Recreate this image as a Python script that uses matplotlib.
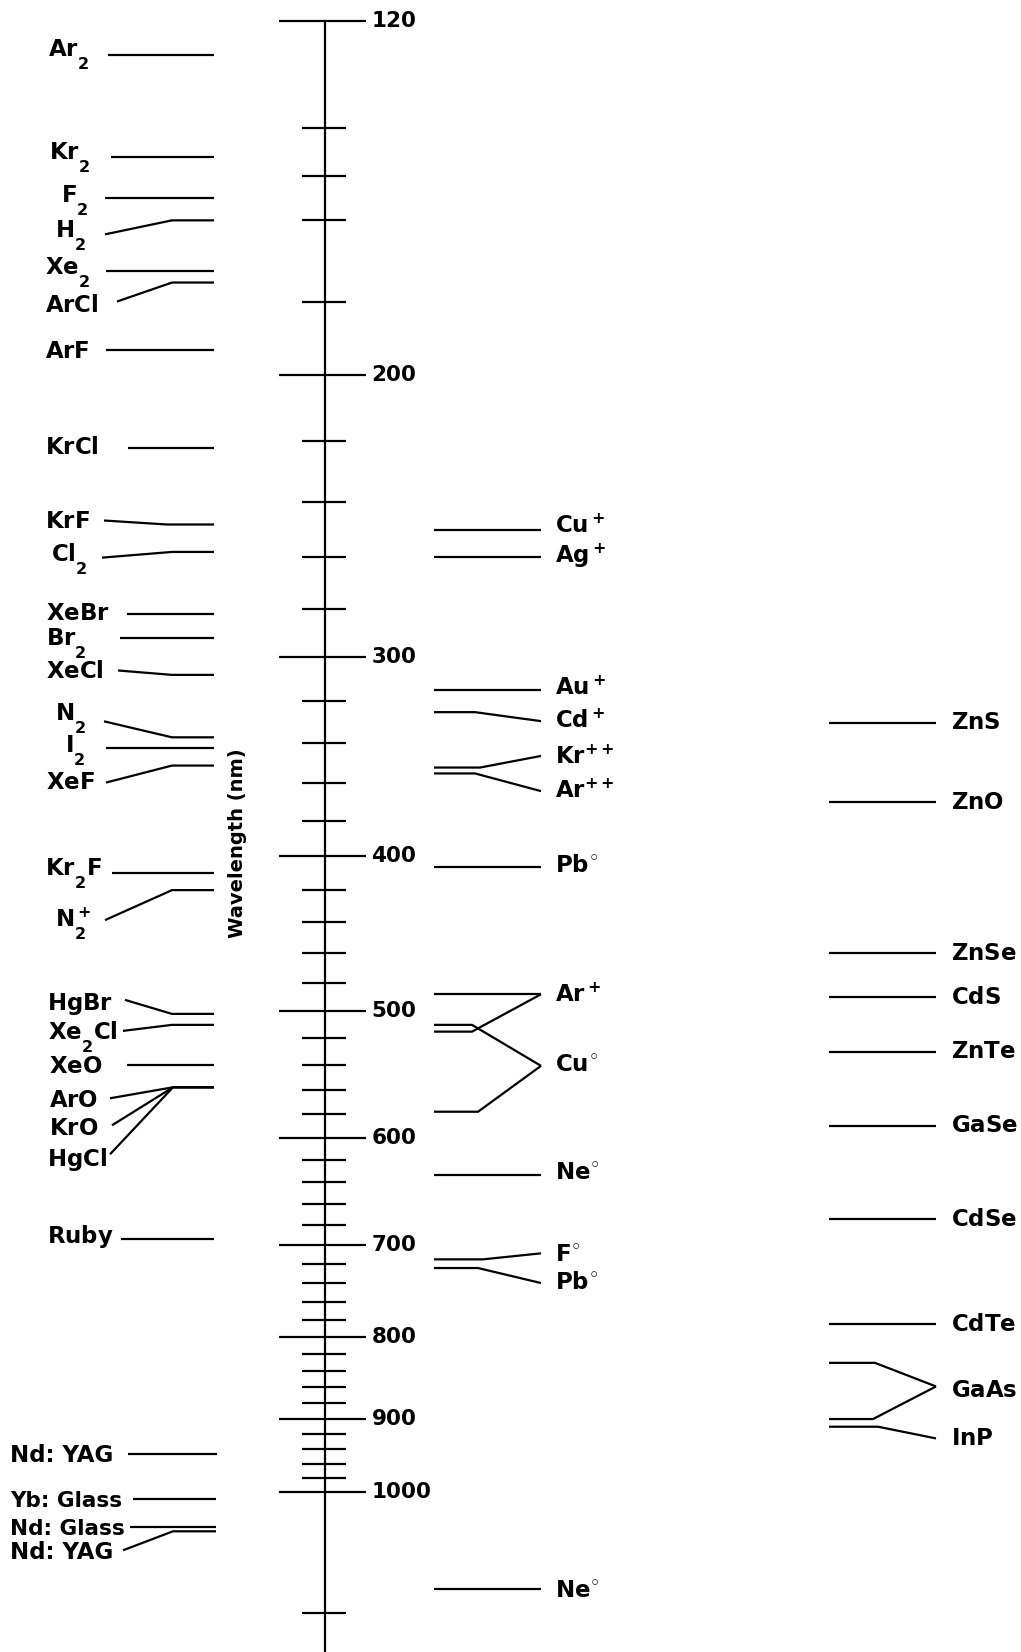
import matplotlib
matplotlib.use("Agg")
import matplotlib.pyplot as plt

plt.rcParams['font.family'] = ['DejaVu Sans']
plt.rcParams['font.weight'] = 'bold'
plt.rcParams['mathtext.default'] = 'regular'

# the reference sets its subscripts well below the baseline
try:
    import matplotlib._mathtext as _mt
    _classes = [_mt.FontConstantsBase] + list(getattr(_mt, '_font_constant_mapping', {}).values())
    for _c in _classes:
        _c.sub1 = 1.0
        _c.sub2 = 1.0
except Exception:
    pass

# ---------------- data ----------------
major_ticks = [120, 200, 300, 400, 500, 600, 700, 800, 900, 1000]
tick_labels = ['120', '200', '300', '400', '500', '600', '700', '800', '900', '1000']
minor_ticks = [140, 150, 160, 180, 220, 240, 260, 280, 320, 340, 360, 380,
               420, 440, 460, 480, 520, 540, 560, 580, 620, 640, 660, 680,
               720, 740, 760, 780, 820, 840, 860, 880, 920, 940, 960, 980, 1190]
axis_title = 'Wavelength (nm)'

gas_names = [r'$Ar_2$', r'$Kr_2$', r'$F_2$', r'$H_2$', r'$Xe_2$', r'$ArCl$', r'$ArF$',
             r'$KrCl$', r'$KrF$', r'$Cl_2$', r'$XeBr$', r'$Br_2$', r'$XeCl$', r'$N_2$',
             r'$I_2$', r'$XeF$', r'$Kr_2F$', r'$N_2^+$', r'$HgBr$', r'$Xe_2Cl$', r'$XeO$',
             r'$ArO$', r'$KrO$', r'$HgCl$', r'$Ruby$',
             'Nd: YAG', 'Yb: Glass', 'Nd: Glass', 'Nd: YAG']
gas_lambda = [126, 146, 155, 160, 172, 175, 193, 222, 248, 258, 282, 292, 308, 337,
              342, 351, 410, 420, 502, 510, 540, 558, 558, 558, 694,
              946, 1010, 1052, 1058]

ion_names = [r'$Cu^+$', r'$Ag^+$', r'$Au^+$', r'$Cd^+$', r'$Kr^{++}$', r'$Ar^{++}$',
             r'$Pb^{◦}$', r'$Ar^+$', r'$Cu^{◦}$', r'$Ne^{◦}$', r'$F^{◦}$',
             r'$Pb^{◦}$', r'$Ne^{◦}$']
ion_lambda = [[250], [260], [315], [325], [352], [355], [406], [488, 515], [510, 578],
              [633], [715], [724], [1150]]

semi_names = ['ZnS', 'ZnO', 'ZnSe', 'CdS', 'ZnTe', 'GaSe', 'CdSe', 'CdTe', 'GaAs', 'InP']
semi_lambda = [[330], [370], [460], [490], [530], [590], [675], [785], [830, 900], [910]]

# ---------------- layout (pixels) ----------------
W, H, DPI = 1021, 1652, 100
Y120, PX_PER_DECADE = 20.7, 1598.0
LW = 1.6
FS = 16.5

gas_label_x = [48, 49, 61, 55, 45, 45, 45, 45, 45, 51, 46, 46, 46, 55, 65, 46, 45, 55,
               47, 48, 49, 49, 49, 47, 47, 10, 10, 10, 10]
gas_label_dy = [-1, 0, 1.5, 15, 1.5, 22.7, 1, 0, -3, 7, 0, 5, -3, -19, 2, 17, 0, 34,
                -10, 12, 2, 13, 41, 72, -2, 2, 2, 2, 21]
gas_label_fs = [FS] * 25 + [16.5, 15.5, 15.5, 16.5]
gas_start_x = [108, 111, 105, 105, 106, 117, 106, 128, 104, 102, 127, 120, 118, 104,
               106, 106, 112, 105, 125, 123, 127, 110, 112, 110, 121, 128, 133, 130, 123]
gas_start_dy = [0, 0, 0, 14, 0, 19, 0, 0, -4, 5.7, 0, 0, -4.4, -16, 0, 17, 0, 30,
                -14, 6, 0, 11, 38, 67, 0, 0, 0, 0, 19]
gas_elbow_x = [172, 172, 172, 172, 172, 172, 172, 172, 167, 172, 172, 172, 172, 172,
               172, 172, 172, 172, 172, 172, 172, 173, 173, 173, 172, 172, 172, 172, 173]
gas_end_x = [214] * 25 + [217, 216, 216, 216]

ion_start_x, ion_end_x, ion_label_x = 434, 541, 555
ion_anchor_dy = [0, 0, 0, 9, -11.6, 17.7, 0, 0, 41, 0, -6, 15, 0]
ion_label_dy = [-3.5, -2, -2, 9, -10, 17.7, 0, 1, 41, -1, -3.5, 15, 2]
ion_elbow_x = [[475], [475], [475], [475], [480], [475], [475], [472, 472], [472, 478],
               [475], [483], [478], [475]]

semi_start_x, semi_end_x, semi_label_x = 829, 936, 951
semi_anchor_dy = [0, 0, 0, 0, 0, 0, 0, 0, 23.6, 11.7]
semi_label_dy = [0, 0, 0, 0, 0, 0, 0, 0, 28, 11.7]
semi_elbow_x = [[875], [875], [875], [875], [875], [875], [875], [875], [875, 873], [878]]

axis_x = 324.5
major_x = (279, 366)
minor_x = (302, 346)
tick_label_x = 371
title_x, title_dy = 237, -13

# ---------------- figure ----------------
fig = plt.figure(figsize=(W / DPI, H / DPI), dpi=DPI)
ax = fig.add_axes([0, 0, 1, 1])
ax.set_axis_off()
ax.set_xlim(0, W)
ax.set_yscale('log')
lam_top = 120 * 10 ** (-Y120 / PX_PER_DECADE)
lam_bot = 120 * 10 ** ((H - Y120) / PX_PER_DECADE)
ax.set_ylim(lam_bot, lam_top)


def shift(lam, dy):
    """wavelength that lies dy pixels below lam on the axis scale"""
    yd = ax.transData.transform((0, lam))[1]
    return ax.transData.inverted().transform((0, yd - dy))[1]


kw = dict(color='black', lw=LW, solid_capstyle='butt', solid_joinstyle='miter')

# scale
ax.plot([axis_x, axis_x], [major_ticks[0], lam_bot], **kw)
for t, lab in zip(major_ticks, tick_labels):
    ax.plot(major_x, [t, t], **kw)
    ax.text(tick_label_x, t, '$' + lab + '$', ha='left', va='center', fontsize=15.5)
for t in minor_ticks:
    ax.plot(minor_x, [t, t], **kw)
ax.text(title_x, shift(400, title_dy), axis_title, rotation=90, ha='center', va='center',
        fontsize=14)

# gas / solid-state lasers (left)
for i, (name, lam) in enumerate(zip(gas_names, gas_lambda)):
    ax.plot([gas_start_x[i], gas_elbow_x[i], gas_end_x[i]],
            [shift(lam, gas_start_dy[i]), lam, lam], **kw)
    ax.text(gas_label_x[i], shift(lam, gas_label_dy[i]), name, ha='left',
            va='center', fontsize=gas_label_fs[i])

# ion / atom lasers (middle)
for i, (name, lams) in enumerate(zip(ion_names, ion_lambda)):
    anchor = shift(lams[0], ion_anchor_dy[i])
    for lam, ex in zip(lams, ion_elbow_x[i]):
        ax.plot([ion_start_x, ex, ion_end_x], [lam, lam, anchor], **kw)
    ax.text(ion_label_x, shift(lams[0], ion_label_dy[i]), name, ha='left',
            va='center', fontsize=FS)

# semiconductor lasers (right)
for i, (name, lams) in enumerate(zip(semi_names, semi_lambda)):
    anchor = shift(lams[0], semi_anchor_dy[i])
    for lam, ex in zip(lams, semi_elbow_x[i]):
        ax.plot([semi_start_x, ex, semi_end_x], [lam, lam, anchor], **kw)
    ax.text(semi_label_x, shift(lams[0], semi_label_dy[i]), '$' + name + '$',
            ha='left', va='center', fontsize=FS)

fig.savefig('out.png', dpi=DPI)
